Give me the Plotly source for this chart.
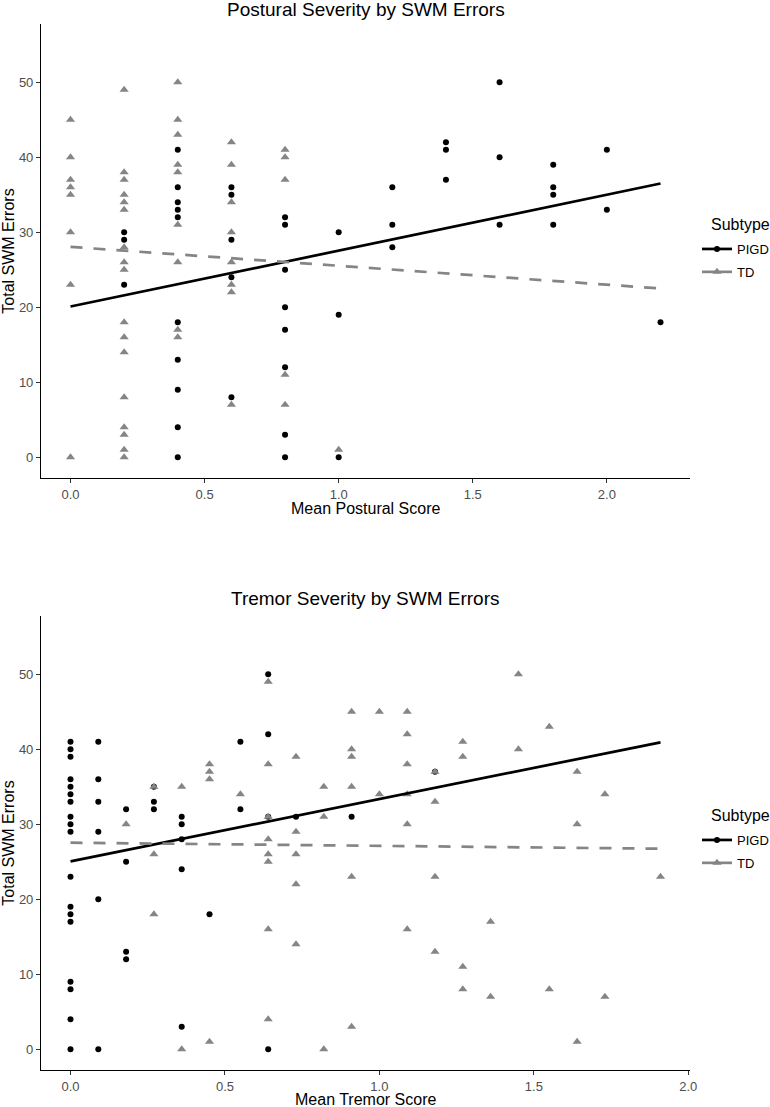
import plotly.graph_objects as go

# ---------------- Data: Postural panel ----------------
post_pigd_x = [0.2, 0.2, 0.2,
               0.4, 0.4, 0.4, 0.4, 0.4, 0.4, 0.4, 0.4, 0.4, 0.4,
               0.6, 0.6, 0.6, 0.6, 0.6,
               0.8, 0.8, 0.8, 0.8, 0.8, 0.8, 0.8, 0.8,
               1.0, 1.0, 1.0,
               1.2, 1.2, 1.2,
               1.4, 1.4, 1.4,
               1.6, 1.6, 1.6,
               1.8, 1.8, 1.8, 1.8,
               2.0, 2.0,
               2.2]
post_pigd_y = [30, 29, 23,
               41, 36, 34, 33, 32, 18, 13, 9, 4, 0,
               36, 35, 29, 24, 8,
               32, 31, 25, 20, 17, 12, 3, 0,
               30, 19, 0,
               36, 31, 28,
               42, 41, 37,
               50, 40, 31,
               39, 36, 35, 31,
               41, 33,
               18]
post_td_x = [0.0, 0.0, 0.0, 0.0, 0.0, 0.0, 0.0, 0.0,
             0.2, 0.2, 0.2, 0.2, 0.2, 0.2, 0.2, 0.2, 0.2, 0.2, 0.2, 0.2, 0.2, 0.2, 0.2, 0.2, 0.2,
             0.4, 0.4, 0.4, 0.4, 0.4, 0.4, 0.4, 0.4, 0.4,
             0.6, 0.6, 0.6, 0.6, 0.6, 0.6, 0.6, 0.6,
             0.8, 0.8, 0.8, 0.8, 0.8,
             1.0]
post_td_y = [45, 40, 37, 36, 35, 30, 23, 0,
             49, 38, 37, 35, 34, 33, 28, 26, 25, 18, 16, 14, 8, 4, 3, 1, 0,
             50, 45, 43, 39, 38, 31, 26, 17, 16,
             42, 39, 34, 30, 26, 23, 22, 7,
             41, 40, 37, 11, 7,
             1]
# linear fits: [intercept, slope]
post_pigd_fit = [20.1, 7.45]
post_td_fit = [28.05, -2.52]

# ---------------- Data: Tremor panel ----------------
trem_pigd_x = [0.0] * 18 + [0.09] * 6 + [0.18] * 4 + [0.27] * 3 + [0.36] * 5 + \
              [0.45] + [0.55] * 2 + [0.64] * 4 + [0.73] + [0.91] + [1.18]
trem_pigd_y = [41, 40, 39, 36, 35, 34, 33, 31, 30, 29, 23, 19, 18, 17, 9, 8, 4, 0,
               41, 36, 33, 29, 20, 0,
               32, 25, 13, 12,
               35, 33, 32,
               31, 30, 28, 24, 3,
               18,
               41, 32,
               50, 42, 31, 0,
               31,
               31,
               37]
trem_td_x = [0.18] + [0.27] * 3 + [0.36] * 2 + [0.45] * 4 + [0.55] + [0.64] * 8 + \
            [0.73] * 5 + [0.82] * 3 + [0.91] * 6 + [1.0] * 2 + [1.09] * 6 + \
            [1.18] * 4 + [1.27] * 4 + [1.36] * 2 + [1.45] * 2 + [1.55] * 2 + \
            [1.64] * 3 + [1.73] * 2 + [1.91]
trem_td_y = [30,
             35, 26, 18,
             35, 0,
             38, 37, 36, 1,
             34,
             49, 38, 31, 28, 26, 25, 16, 4,
             39, 29, 26, 22, 14,
             35, 31, 0,
             45, 40, 39, 35, 23, 3,
             45, 34,
             45, 42, 38, 34, 30, 16,
             37, 33, 23, 13,
             41, 39, 11, 8,
             17, 7,
             50, 40,
             43, 8,
             37, 30, 1,
             34, 7,
             23]
trem_pigd_fit = [25.06, 8.30]
trem_td_fit = [27.54, -0.42]

titles = ["Postural Severity by SWM Errors", "Tremor Severity by SWM Errors"]
xtitles = ["Mean Postural Score", "Mean Tremor Score"]
ytitle = "Total SWM Errors"
legend_title = "Subtype"
subtypes = ["PIGD", "TD"]
y_ticks = [0, 10, 20, 30, 40, 50]
x_ticks = [0.0, 0.5, 1.0, 1.5, 2.0]
x_ticklabels = ["0.0", "0.5", "1.0", "1.5", "2.0"]

# ---------------- Styling ----------------
W, H = 770, 1107
FONT = "Liberation Sans, Arial, sans-serif"
PIGD_COL = "#000000"
TD_COL = "#858585"

fig = go.Figure()

panels = [
    dict(px=post_pigd_x, py=post_pigd_y, tx=post_td_x, ty=post_td_y,
         pf=post_pigd_fit, tf=post_td_fit, xa="x", ya="y", leg="legend"),
    dict(px=trem_pigd_x, py=trem_pigd_y, tx=trem_td_x, ty=trem_td_y,
         pf=trem_pigd_fit, tf=trem_td_fit, xa="x2", ya="y2", leg="legend2"),
]

for p in panels:
    allx = p["px"] + p["tx"]
    x0, x1 = min(allx), max(allx)
    fig.add_trace(go.Scatter(x=p["px"], y=p["py"], mode="markers", showlegend=False,
                             marker=dict(symbol="circle", size=6, color=PIGD_COL),
                             xaxis=p["xa"], yaxis=p["ya"], hoverinfo="skip"))
    fig.add_trace(go.Scatter(x=p["tx"], y=p["ty"], mode="markers", showlegend=False,
                             marker=dict(symbol="triangle-up", size=8, color=TD_COL),
                             xaxis=p["xa"], yaxis=p["ya"], hoverinfo="skip"))
    fig.add_trace(go.Scatter(x=[x0, x1], y=[p["pf"][0] + p["pf"][1] * x0, p["pf"][0] + p["pf"][1] * x1],
                             mode="lines", showlegend=False,
                             line=dict(color=PIGD_COL, width=2.7),
                             xaxis=p["xa"], yaxis=p["ya"], hoverinfo="skip"))
    fig.add_trace(go.Scatter(x=[x0, x1], y=[p["tf"][0] + p["tf"][1] * x0, p["tf"][0] + p["tf"][1] * x1],
                             mode="lines", showlegend=False,
                             line=dict(color=TD_COL, width=2.7, dash="12px,11px"),
                             xaxis=p["xa"], yaxis=p["ya"], hoverinfo="skip"))
    # legend entries (line + marker key, like ggplot)
    fig.add_trace(go.Scatter(x=[None], y=[None], mode="lines+markers", name=subtypes[0],
                             line=dict(color=PIGD_COL, width=2.7),
                             marker=dict(symbol="circle", size=6, color=PIGD_COL),
                             legend=p["leg"], legendgroup=p["leg"] + "a",
                             xaxis=p["xa"], yaxis=p["ya"]))
    fig.add_trace(go.Scatter(x=[None], y=[None], mode="lines+markers", name=subtypes[1],
                             line=dict(color=TD_COL, width=2.7),
                             marker=dict(symbol="triangle-up", size=8, color=TD_COL),
                             legend=p["leg"], legendgroup=p["leg"] + "b",
                             xaxis=p["xa"], yaxis=p["ya"]))

xdom = [41 / W, 690 / W]
xmid = (xdom[0] + xdom[1]) / 2
top_dom = [1 - 478 / H, 1 - 24 / H]
bot_dom = [1 - 1070 / H, 1 - 616 / H]

def xaxis(domain_anchor, rng):
    return dict(domain=xdom, anchor=domain_anchor, range=rng, showgrid=False, zeroline=False,
                showline=True, linecolor="#000000", linewidth=1.1,
                ticks="outside", ticklen=4, tickwidth=1.1, tickcolor="#333333",
                tickvals=x_ticks, ticktext=x_ticklabels,
                tickfont=dict(size=13, color="#4D4D4D", family=FONT))

def yaxis(domain, anchor):
    return dict(domain=domain, anchor=anchor, range=[-2.75, 57.75], showgrid=False, zeroline=False,
                showline=True, linecolor="#000000", linewidth=1.1,
                ticks="outside", ticklen=4, tickwidth=1.1, tickcolor="#333333",
                tickvals=y_ticks,
                tickfont=dict(size=13, color="#4D4D4D", family=FONT),
                title=dict(text=ytitle, font=dict(size=16, color="#000000", family=FONT), standoff=4))

legend_common = dict(
    font=dict(size=13, color="#000000", family=FONT),
    xanchor="left", yanchor="top", bgcolor="rgba(0,0,0,0)", borderwidth=0,
    tracegroupgap=3, traceorder="grouped", itemclick=False, itemdoubleclick=False,
)

def text_ann(text, x, y, size, xanchor="center"):
    return dict(text=text, xref="paper", yref="paper", x=x, y=y,
                xanchor=xanchor, yanchor="middle", showarrow=False,
                font=dict(size=size, color="#000000", family=FONT))

fig.update_layout(
    width=W, height=H,
    margin=dict(l=0, r=0, t=0, b=0, autoexpand=False),
    paper_bgcolor="white", plot_bgcolor="white",
    font=dict(family=FONT, color="#000000"),
    xaxis=xaxis("y", [-0.11, 2.31]),
    yaxis=yaxis(top_dom, "x"),
    xaxis2=xaxis("y2", [-0.0955, 2.0055]),
    yaxis2=yaxis(bot_dom, "x2"),
    legend=dict(x=697 / W, y=1 - 234 / H, **legend_common),
    legend2=dict(x=697 / W, y=1 - 825 / H, **legend_common),
    annotations=[
        text_ann(titles[0], xmid, 1 - 9 / H, 19),
        text_ann(titles[1], xmid, 1 - 598 / H, 19),
        text_ann(xtitles[0], xmid, 1 - 508 / H, 16),
        text_ann(xtitles[1], xmid, 1 - 1099 / H, 16),
        text_ann(legend_title, 709 / W, 1 - 224 / H, 16, "left"),
        text_ann(legend_title, 709 / W, 1 - 815 / H, 16, "left"),
    ],
)

fig.write_html("out.html", config={"displayModeBar": False},
               post_script="document.body.style.margin='0';document.body.style.overflow='hidden';")
